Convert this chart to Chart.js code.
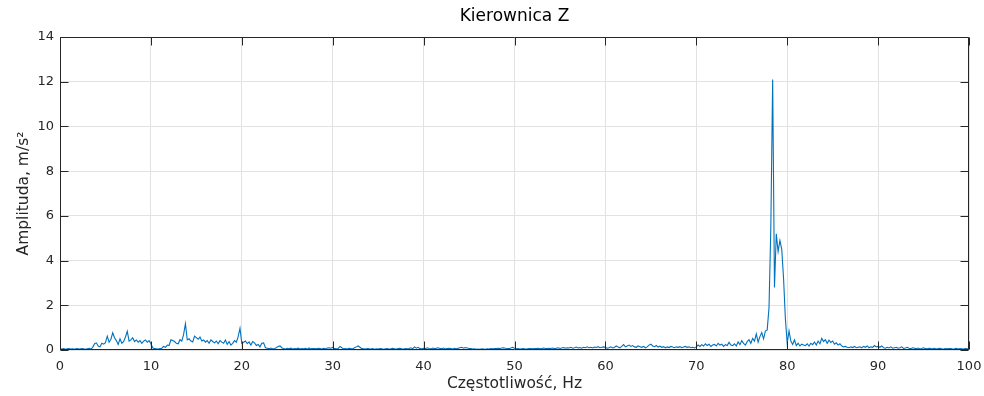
<!DOCTYPE html>
<html>
<head>
<meta charset="utf-8">
<script src="https://cdn.jsdelivr.net/npm/chart.js@4/dist/chart.umd.min.js"></script>
<style>
  html, body { margin: 0; padding: 0; background: #ffffff; }
  #wrap { width: 984px; height: 396px; }
</style>
</head>
<body>
<div id="wrap"><canvas id="c"></canvas></div>
<script>
// Amplitude spectrum of the handlebar, Z axis, sampled every 0.2 Hz (0 .. 100 Hz)
const freqStep = 0.2;
const amplitude = [
  0.05,0.04,0.06,0.03,0.05,0.06,0.04,0.05,0.03,0.06,
  0.05,0.04,0.06,0.05,0.03,0.05,0.07,0.04,0.12,0.28,
  0.32,0.18,0.14,0.30,0.26,0.33,0.62,0.35,0.48,0.77,
  0.55,0.42,0.25,0.50,0.30,0.38,0.58,0.84,0.40,0.45,
  0.55,0.38,0.45,0.35,0.42,0.30,0.40,0.45,0.35,0.42,
  0.28,0.10,0.06,0.05,0.04,0.06,0.08,0.16,0.12,0.22,
  0.20,0.46,0.42,0.38,0.30,0.28,0.46,0.40,0.70,1.18,
  0.45,0.50,0.40,0.36,0.62,0.55,0.48,0.58,0.40,0.45,
  0.35,0.42,0.30,0.45,0.38,0.32,0.40,0.28,0.42,0.35,
  0.30,0.45,0.25,0.38,0.22,0.30,0.42,0.35,0.60,0.97,
  0.30,0.35,0.40,0.28,0.36,0.22,0.38,0.32,0.20,0.25,
  0.14,0.30,0.32,0.10,0.08,0.06,0.09,0.05,0.07,0.10,
  0.16,0.18,0.10,0.06,0.04,0.07,0.05,0.08,0.04,0.06,
  0.05,0.08,0.04,0.06,0.05,0.07,0.04,0.09,0.05,0.06,
  0.07,0.05,0.08,0.06,0.04,0.07,0.05,0.09,0.10,0.08,
  0.12,0.06,0.05,0.07,0.16,0.10,0.05,0.06,0.04,0.08,
  0.06,0.05,0.10,0.14,0.18,0.12,0.06,0.05,0.04,0.06,
  0.05,0.04,0.06,0.03,0.05,0.04,0.06,0.05,0.03,0.05,
  0.06,0.04,0.05,0.07,0.05,0.04,0.06,0.08,0.05,0.04,
  0.06,0.05,0.07,0.10,0.06,0.14,0.08,0.12,0.06,0.05,
  0.08,0.06,0.10,0.07,0.05,0.09,0.06,0.08,0.10,0.07,
  0.06,0.09,0.05,0.07,0.08,0.06,0.04,0.07,0.05,0.08,
  0.10,0.12,0.08,0.11,0.09,0.07,0.06,0.04,0.05,0.03,
  0.04,0.03,0.05,0.04,0.03,0.05,0.04,0.06,0.05,0.07,
  0.06,0.08,0.07,0.09,0.10,0.08,0.07,0.06,0.09,0.12,
  0.08,0.05,0.06,0.04,0.05,0.06,0.04,0.05,0.07,0.06,
  0.05,0.07,0.06,0.08,0.05,0.06,0.09,0.07,0.06,0.08,
  0.07,0.09,0.06,0.08,0.10,0.07,0.09,0.11,0.08,0.10,
  0.09,0.12,0.08,0.10,0.13,0.09,0.11,0.08,0.12,0.10,
  0.14,0.10,0.12,0.09,0.13,0.11,0.15,0.10,0.12,0.14,
  0.12,0.08,0.10,0.14,0.09,0.12,0.18,0.13,0.10,0.16,
  0.24,0.14,0.18,0.22,0.16,0.20,0.14,0.12,0.18,0.15,
  0.12,0.16,0.10,0.14,0.22,0.26,0.18,0.15,0.20,0.13,
  0.17,0.12,0.15,0.10,0.14,0.11,0.16,0.13,0.10,0.14,
  0.12,0.15,0.10,0.13,0.16,0.12,0.14,0.10,0.12,0.09,
  0.14,0.22,0.16,0.24,0.18,0.28,0.20,0.26,0.16,0.22,
  0.25,0.18,0.30,0.22,0.26,0.16,0.24,0.20,0.34,0.22,
  0.20,0.28,0.18,0.36,0.24,0.42,0.30,0.22,0.38,0.46,
  0.30,0.52,0.40,0.72,0.35,0.60,0.78,0.50,0.85,0.90,
  1.90,5.50,12.10,2.80,5.20,4.40,4.90,4.50,3.20,1.40,
  0.30,0.85,0.40,0.25,0.45,0.20,0.30,0.18,0.26,0.22,
  0.20,0.28,0.18,0.30,0.24,0.36,0.22,0.40,0.28,0.52,
  0.38,0.46,0.30,0.44,0.34,0.40,0.26,0.32,0.22,0.28,
  0.18,0.14,0.16,0.12,0.10,0.14,0.11,0.16,0.10,0.12,
  0.14,0.10,0.16,0.12,0.18,0.10,0.14,0.12,0.20,0.14,
  0.16,0.12,0.18,0.10,0.08,0.12,0.09,0.14,0.08,0.10,
  0.12,0.08,0.10,0.14,0.07,0.09,0.12,0.08,0.06,0.10,
  0.08,0.06,0.09,0.05,0.07,0.10,0.06,0.05,0.08,0.06,
  0.05,0.07,0.04,0.06,0.08,0.05,0.04,0.06,0.05,0.07,
  0.06,0.04,0.05,0.07,0.04,0.06,0.05,0.04,0.06,0.05,
  0.05
];
const xTicks = [0, 10, 20, 30, 40, 50, 60, 70, 80, 90, 100];
const yTicks = [0, 2, 4, 6, 8, 10, 12, 14];

const titleText = 'Kierownica Z';
const xLabel = 'Częstotliwość, Hz';
const yLabel = 'Amplituda, m/s²';

// frequency of each spectral line
const freqHz = amplitude.map((_, i) => Math.round(i * freqStep * 10) / 10);
const points = freqHz.map((f, i) => ({ x: f, y: amplitude[i] }));

const FONT = "'DejaVu Sans', sans-serif";
const AXIS_COLOR = '#262626';
const GRID_COLOR = '#e2e2e2';
const TICK_LEN = 8;

// box around the axes with inward tick marks on all four sides
const axesBox = {
  id: 'axesBox',
  afterDraw(chart) {
    const { ctx, chartArea: a, scales } = chart;
    ctx.save();
    ctx.strokeStyle = AXIS_COLOR;
    ctx.lineWidth = 1;
    const L = Math.round(a.left) + 0.5, R = Math.round(a.right) - 0.5;
    const T = Math.round(a.top) + 0.5, B = Math.round(a.bottom) - 0.5;
    ctx.beginPath();
    ctx.rect(L, T, R - L, B - T);
    xTicks.forEach(v => {
      const px = Math.round(scales.x.getPixelForValue(v)) + 0.5;
      ctx.moveTo(px, B); ctx.lineTo(px, B - TICK_LEN);
      ctx.moveTo(px, T); ctx.lineTo(px, T + TICK_LEN);
    });
    yTicks.forEach(v => {
      const py = Math.round(scales.y.getPixelForValue(v)) + 0.5;
      ctx.moveTo(L, py); ctx.lineTo(L + TICK_LEN, py);
      ctx.moveTo(R, py); ctx.lineTo(R - TICK_LEN, py);
    });
    ctx.stroke();
    ctx.restore();
  }
};

// title centred over the plotting area
const axesTitle = {
  id: 'axesTitle',
  afterDraw(chart) {
    const { ctx, chartArea: a } = chart;
    ctx.save();
    ctx.fillStyle = '#000000';
    ctx.font = "17px " + FONT;
    ctx.textAlign = 'center';
    ctx.textBaseline = 'middle';
    ctx.fillText(titleText, (a.left + a.right) / 2, 17);
    ctx.restore();
  }
};

new Chart(document.getElementById('c'), {
  type: 'line',
  data: {
    datasets: [{
      data: points,
      borderColor: '#0072BD',
      borderWidth: 1.1,
      pointRadius: 0,
      tension: 0,
      fill: false
    }]
  },
  options: {
    responsive: true,
    maintainAspectRatio: false,
    animation: false,
    devicePixelRatio: 1,
    layout: { padding: { left: 0, right: 15, top: 37, bottom: 0 } },
    plugins: {
      legend: { display: false },
      tooltip: { enabled: false },
      title: { display: false }
    },
    scales: {
      x: {
        type: 'linear',
        min: 0, max: 100,
        afterBuildTicks(scale) { scale.ticks = xTicks.map(v => ({ value: v })); },
        afterFit(scale) {
          scale.height = 46;
          scale.paddingLeft = 0;
          scale.paddingRight = 0;
        },
        grid: { color: GRID_COLOR, drawTicks: false },
        border: { display: false },
        ticks: {
          color: AXIS_COLOR, padding: 9, maxRotation: 0,
          font: { family: FONT, size: 13 }
        },
        title: {
          display: true, text: xLabel, color: AXIS_COLOR,
          font: { family: FONT, size: 15.5 },
          padding: { top: 0, bottom: 3 }
        }
      },
      y: {
        type: 'linear',
        min: 0, max: 14,
        afterBuildTicks(scale) { scale.ticks = yTicks.map(v => ({ value: v })); },
        afterFit(scale) {
          scale.width = 60;
          scale.paddingTop = 0;
          scale.paddingBottom = 0;
        },
        grid: { color: GRID_COLOR, drawTicks: false },
        border: { display: false },
        ticks: {
          color: AXIS_COLOR, padding: 6,
          font: { family: FONT, size: 13 }
        },
        title: {
          display: true, text: yLabel, color: AXIS_COLOR,
          font: { family: FONT, size: 15.5 },
          padding: { top: 15, bottom: 0 }
        }
      }
    }
  },
  plugins: [axesBox, axesTitle]
});
</script>
</body>
</html>
